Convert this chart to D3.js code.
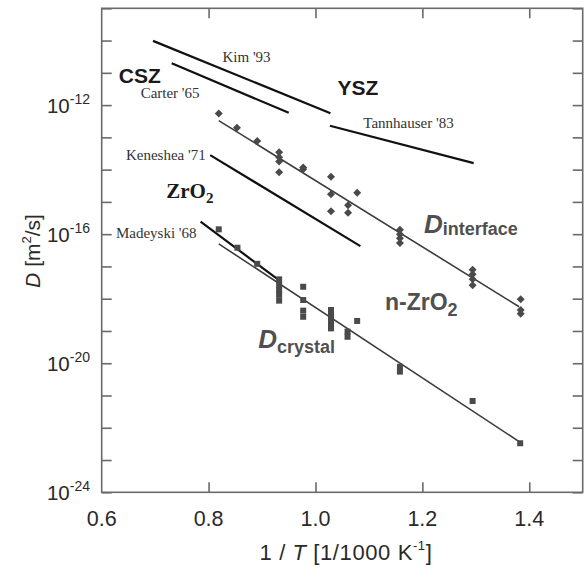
<!DOCTYPE html>
<html>
<head>
<meta charset="utf-8">
<script src="https://cdn.jsdelivr.net/npm/d3@7"></script>
<style>
  html, body { margin: 0; padding: 0; background: #fff; }
  svg { display: block; }
</style>
</head>
<body>
<svg id="chart" width="586" height="567"></svg>
<script>
// ---------- data (x = 1/T in 1/1000 K^-1, values = log10 D in m^2/s) ----------
const xTicks = [0.6, 0.8, 1.0, 1.2, 1.4];
const yLabelExps = [-12, -16, -20, -24];
const yMinorExps = d3.range(-24, -8);

// D_interface (diamonds)
const interfaceX = [0.819, 0.853, 0.891, 0.932, 0.932, 0.932, 0.932, 0.977, 0.977,
                    1.029, 1.029, 1.029, 1.061, 1.061, 1.078,
                    1.158, 1.158, 1.158, 1.158, 1.294, 1.294, 1.294, 1.294,
                    1.384, 1.384, 1.384];
const interfaceLogD = [-12.26, -12.70, -13.11, -13.46, -13.62, -13.75, -14.08, -13.93, -13.99,
                       -14.22, -14.76, -15.29, -15.10, -15.34, -14.72,
                       -15.86, -16.00, -16.13, -16.27, -17.10, -17.24, -17.40, -17.58,
                       -18.02, -18.35, -18.47];

// D_crystal (squares)
const crystalX = [0.819, 0.854, 0.891, 0.932, 0.932, 0.932, 0.932, 0.932,
                  0.977, 0.977, 0.977, 0.977,
                  1.029, 1.029, 1.029, 1.029, 1.029, 1.060, 1.060, 1.078,
                  1.158, 1.158, 1.294, 1.383];
const crystalLogD = [-15.85, -16.42, -16.92, -17.40, -17.57, -17.73, -17.88, -18.06,
                     -17.63, -18.04, -18.37, -18.56,
                     -18.35, -18.48, -18.63, -18.76, -18.92, -19.02, -19.18, -18.69,
                     -20.11, -20.26, -21.17, -22.48];

// fitted lines through the n-ZrO2 data
const fitNames = ["interface", "crystal"];
const fitX1 = [0.819, 0.819];
const fitY1 = [-12.48, -16.30];
const fitX2 = [1.381, 1.381];
const fitY2 = [-18.25, -22.43];

// literature lines
const litNames = ["Kim '93", "Carter '65", "Tannhauser '83", "Keneshea '71", "Madeyski '68"];
const litX1 = [0.696, 0.731, 1.027, 0.803, 0.785];
const litY1 = [-10.01, -10.70, -12.64, -13.55, -15.61];
const litX2 = [1.028, 0.950, 1.296, 1.084, 0.931];
const litY2 = [-12.25, -12.24, -13.80, -16.37, -17.42];

// ---------- layout ----------
const svg = d3.select("#chart");
const L = 101.7, R = 582.7, T = 8.3, B = 492.3;
const x = d3.scaleLinear().domain([0.6, 1.5]).range([L, R]);
const y = d3.scaleLog().domain([1e-24, 1e-9]).range([B, T]);
const p10 = e => Math.pow(10, e);

const axisColor = "#6a6a6a";
const sans = "'Liberation Sans', Arial, Helvetica, sans-serif";
const serif = "'Liberation Serif', 'Times New Roman', serif";

// ticks: d3 axes with inner ticks
const tickLen = 10;
const gLeft = svg.append("g").attr("transform", `translate(${L},0)`)
  .call(d3.axisRight(y).tickValues(yMinorExps.map(p10)).tickSize(tickLen).tickFormat(""));
const gRight = svg.append("g").attr("transform", `translate(${R},0)`)
  .call(d3.axisLeft(y).tickValues(yMinorExps.map(p10)).tickSize(tickLen).tickFormat(""));
const gTop = svg.append("g").attr("transform", `translate(0,${T})`)
  .call(d3.axisBottom(x).tickValues(xTicks.slice(1)).tickSize(tickLen).tickFormat(""));
const gBot = svg.append("g").attr("transform", `translate(0,${B})`)
  .call(d3.axisTop(x).tickValues(xTicks.slice(1)).tickSize(tickLen).tickFormat(""));
[gLeft, gRight, gTop, gBot].forEach(g => {
  g.select(".domain").remove();
  g.selectAll("line").attr("stroke", axisColor).attr("stroke-width", 1.6);
});

// frame
svg.append("rect").attr("x", L).attr("y", T).attr("width", R - L).attr("height", B - T)
  .attr("fill", "none").attr("stroke", axisColor).attr("stroke-width", 1.6);

// y tick labels 10^n
const yl = svg.append("g").attr("font-family", sans).attr("fill", "#2a2a2a");
yLabelExps.forEach(e => {
  const t = yl.append("text").attr("x", 90).attr("y", y(p10(e)) + 8)
    .attr("text-anchor", "end").attr("font-size", 20.5);
  t.append("tspan").text("10");
  t.append("tspan").attr("font-size", 14).attr("dy", -9.5).text(String(e));
});

// x tick labels
svg.append("g").selectAll("text").data(xTicks).join("text")
  .attr("x", d => x(d)).attr("y", 525.5)
  .attr("text-anchor", "middle").attr("font-family", sans).attr("font-size", 21.5)
  .attr("fill", "#2a2a2a").text(d => d.toFixed(1));

// x axis title
const xt = svg.append("text").attr("x", 346).attr("y", 560)
  .attr("text-anchor", "middle").attr("font-family", sans).attr("font-size", 22)
  .attr("letter-spacing", 0.6).attr("fill", "#2a2a2a");
xt.append("tspan").text("1 / ");
xt.append("tspan").attr("font-style", "italic").text("T");
xt.append("tspan").text("  [1/1000 K");
xt.append("tspan").attr("font-size", 13).attr("dy", -10).text("-1");
xt.append("tspan").attr("dy", 10).text("]");

// y axis title
const yt = svg.append("text").attr("transform", `translate(40,251) rotate(-90)`)
  .attr("text-anchor", "middle").attr("font-family", sans).attr("font-size", 21)
  .attr("fill", "#2a2a2a");
yt.append("tspan").attr("font-style", "italic").text("D");
yt.append("tspan").text("  [m");
yt.append("tspan").attr("font-size", 13).attr("dy", -9).text("2");
yt.append("tspan").attr("dy", 9).text("/s]");

// literature lines
svg.append("g").selectAll("line").data(litNames).join("line")
  .attr("x1", (d, i) => x(litX1[i])).attr("y1", (d, i) => y(p10(litY1[i])))
  .attr("x2", (d, i) => x(litX2[i])).attr("y2", (d, i) => y(p10(litY2[i])))
  .attr("stroke", "#111").attr("stroke-width", 2.2);

// fit lines
svg.append("g").selectAll("line").data(fitNames).join("line")
  .attr("x1", (d, i) => x(fitX1[i])).attr("y1", (d, i) => y(p10(fitY1[i])))
  .attr("x2", (d, i) => x(fitX2[i])).attr("y2", (d, i) => y(p10(fitY2[i])))
  .attr("stroke", "#3c3c3c").attr("stroke-width", 1.6);

// markers
const markColor = "#4a4a4a";
const diamond = d3.symbol().type(d3.symbolSquare).size(32)();
svg.append("g").selectAll("path").data(interfaceX).join("path")
  .attr("d", diamond)
  .attr("transform", (d, i) => `translate(${x(d)},${y(p10(interfaceLogD[i]))}) rotate(45)`)
  .attr("fill", markColor);
const square = d3.symbol().type(d3.symbolSquare).size(36)();
svg.append("g").selectAll("path").data(crystalX).join("path")
  .attr("d", square)
  .attr("transform", (d, i) => `translate(${x(d)},${y(p10(crystalLogD[i]))})`)
  .attr("fill", markColor);

// literature labels (serif)
const litLabels = [
  {t: "Kim '93", x: 0.871, e: -10.655},
  {t: "Carter '65", x: 0.728, e: -11.79},
  {t: "Tannhauser '83", x: 1.174, e: -12.72},
  {t: "Keneshea '71", x: 0.720, e: -13.70},
  {t: "Madeyski '68", x: 0.702, e: -16.13}
];
svg.append("g").selectAll("text").data(litLabels).join("text")
  .attr("x", d => x(d.x)).attr("y", d => y(p10(d.e)))
  .attr("text-anchor", "middle").attr("font-family", serif).attr("font-size", 15)
  .attr("fill", "#333").text(d => d.t);

// big labels
svg.append("text").attr("x", x(0.632)).attr("y", y(p10(-11.32)))
  .attr("font-family", sans).attr("font-weight", "bold").attr("font-size", 21)
  .attr("fill", "#1a1a1a").text("CSZ");
svg.append("text").attr("x", x(1.041)).attr("y", y(p10(-11.69)))
  .attr("font-family", sans).attr("font-weight", "bold").attr("font-size", 21)
  .attr("fill", "#1a1a1a").text("YSZ");

const zr = svg.append("text").attr("x", x(0.7207)).attr("y", y(p10(-14.89)))
  .attr("font-family", serif).attr("font-weight", "bold").attr("font-size", 21)
  .attr("fill", "#1a1a1a");
zr.append("tspan").text("ZrO");
zr.append("tspan").attr("font-size", 15).attr("dy", 5).text("2");

const lab = "#505050";
const di = svg.append("text").attr("x", x(1.203)).attr("y", y(p10(-15.97)))
  .attr("font-family", sans).attr("font-weight", "bold").attr("fill", lab);
di.append("tspan").attr("font-style", "italic").attr("font-size", 26).text("D");
di.append("tspan").attr("font-size", 18).attr("dy", 2).text("interface");

const nz = svg.append("text").attr("x", x(1.130)).attr("y", y(p10(-18.35)))
  .attr("font-family", sans).attr("font-weight", "bold").attr("font-size", 23).attr("fill", lab);
nz.append("tspan").text("n-ZrO");
nz.append("tspan").attr("font-size", 18).attr("dy", 6).text("2");

const dc = svg.append("text").attr("x", x(0.893)).attr("y", y(p10(-19.54)))
  .attr("font-family", sans).attr("font-weight", "bold").attr("fill", lab);
dc.append("tspan").attr("font-style", "italic").attr("font-size", 26).text("D");
dc.append("tspan").attr("font-size", 18).attr("dy", 5).text("crystal");
</script>
</body>
</html>
